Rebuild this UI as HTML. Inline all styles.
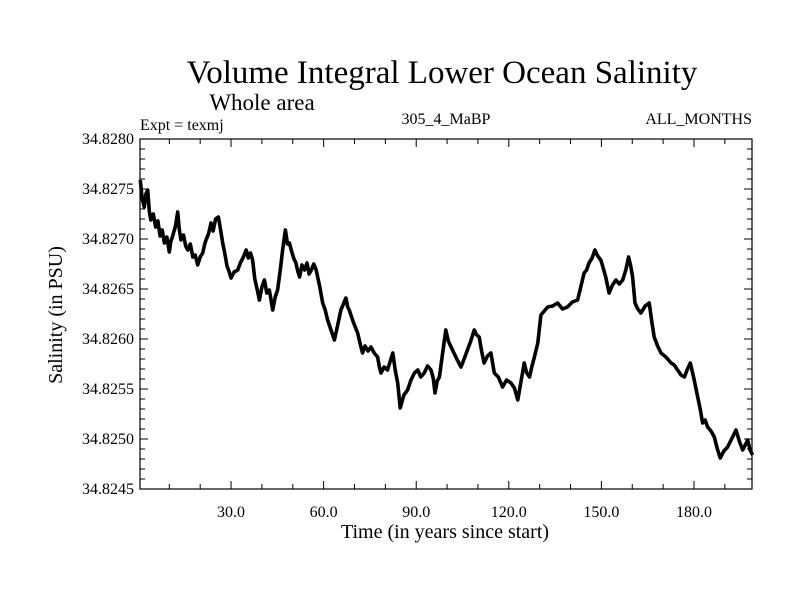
<!DOCTYPE html>
<html><head><meta charset="utf-8"><style>
body{margin:0;background:#fff}
svg text{font-family:"Liberation Serif",serif;fill:#000}
</style></head><body>
<svg id="chart" width="800" height="600" xmlns="http://www.w3.org/2000/svg">
<text x="442" y="83" font-size="33" text-anchor="middle">Volume Integral Lower Ocean Salinity</text>
<text x="262" y="110" font-size="23" text-anchor="middle">Whole area</text>
<text x="140" y="130" font-size="16">Expt = texmj</text>
<text x="446" y="124" font-size="16" text-anchor="middle">305_4_MaBP</text>
<text x="752" y="124" font-size="16" text-anchor="end">ALL_MONTHS</text>
<text transform="translate(62,315) rotate(-90)" font-size="20" text-anchor="middle">Salinity (in PSU)</text>
<text x="445" y="538" font-size="20" text-anchor="middle">Time (in years since start)</text>
<g id="axes"></g>
<path id="series" fill="none" stroke="#000" stroke-width="3.6" stroke-linejoin="round"/>
<rect x="140" y="139" width="612" height="350" fill="none" stroke="#000" stroke-width="1.2"/>
</svg>
<script>
const years=[0.6,1.2,1.9,2.4,3,3.5,4,4.8,5.6,6.3,7,7.7,8.4,9.2,10,10.5,11,12,12.7,13.2,13.8,14.6,15.3,16,16.8,17.6,18.4,19.2,20,20.8,21.4,21.9,22.7,23.5,24.2,25,25.9,26.6,27.3,28,28.7,29.3,30,31,32.2,33,34,34.9,35.6,36.3,37,37.7,38.5,39.2,40,40.8,41.6,42.4,43,43.5,44.3,45.1,46,46.7,47.6,48.3,48.9,49.7,50.4,51,51.6,52.2,53,53.8,54.6,55.3,56,56.8,57.6,58.7,59.7,60.5,61.3,62.4,63.5,64.5,65.6,66.4,67.2,67.8,68.3,69.6,71,71.8,72.6,73.4,74.4,75.3,76.4,77.5,78,78.6,79.6,80.7,81.6,82.4,83.2,84,84.8,86,87.2,88.3,89.4,90.5,91.5,92.6,93.7,94.8,95.5,96.1,96.8,97.5,98.5,99.6,100.4,101.3,102.2,103.3,104.5,105.5,106.6,107.7,108.8,109.6,110.4,111.2,112,113.1,114.2,115.3,116.6,118,119.3,120.7,121.8,122.9,124,125,125.8,126.7,127.5,128.3,129.4,130.4,131.5,132.6,134.2,135.8,137.4,139,140.6,142.3,143.4,144.4,145.2,146,147,147.9,148.8,149.8,150.6,151.4,152,152.5,153.6,154.7,155.8,156.9,157.9,158.8,159.5,160.1,160.9,161.8,162.8,164.2,165.5,166.3,167.1,168.2,169.3,170.9,172.6,173.6,174.7,175.8,176.9,177.9,178.8,180,181.2,182,182.8,183.6,184.4,185.5,186.6,187.5,188.5,189.7,190.9,192.2,193.6,194.7,195.8,196.6,197.4,198.2,199];
const anom=[30.9,29.0,28.2,29.5,29.9,27.8,26.9,27.5,26.2,26.8,25.3,25.9,24.6,25.2,23.7,24.8,25.2,26.3,27.7,26.0,24.9,25.4,24.3,23.9,24.5,23.2,23.4,22.4,23.2,23.6,24.4,24.9,25.5,26.6,25.8,27.0,27.2,25.9,24.6,23.5,22.3,21.8,21.1,21.7,21.9,22.6,23.2,23.9,23.1,23.6,22.9,21.0,19.9,18.9,20.2,20.9,19.6,19.9,18.8,17.9,19.2,19.9,22.0,23.9,25.9,24.5,24.6,23.7,23.0,22.6,21.8,21.2,22.4,21.9,22.6,21.5,21.9,22.5,21.9,20.3,18.6,17.9,16.9,15.9,14.9,16.3,17.9,18.5,19.1,18.2,17.9,16.7,15.6,14.6,13.6,14.3,13.8,14.2,13.6,13.2,12.3,11.6,12.2,11.9,12.8,13.6,11.9,10.6,8.1,9.4,9.9,10.9,11.6,11.9,11.2,11.6,12.3,11.9,11.1,9.6,10.8,11.2,13.5,15.9,14.8,14.2,13.6,12.9,12.2,13.0,13.9,14.8,15.9,15.4,15.2,13.8,12.6,13.3,13.6,11.6,11.2,10.2,10.9,10.6,10.1,8.9,10.8,12.6,11.6,11.2,12.3,13.2,14.6,17.4,17.8,18.2,18.3,18.6,18.0,18.2,18.7,18.9,20.3,21.6,21.9,22.6,23.1,23.9,23.3,22.9,22.1,21.2,20.3,19.6,20.4,20.9,20.5,20.9,21.9,23.2,22.3,21.2,18.6,18.0,17.6,18.3,18.6,16.8,15.2,14.3,13.6,13.2,12.6,12.4,11.9,11.4,11.2,12.0,12.6,11.0,9.2,8.0,6.6,6.9,6.2,5.8,5.2,4.1,3.1,3.8,4.2,5.0,5.9,4.8,3.9,4.4,4.9,3.9,3.4];
const yTickLabels=["34.8245","34.8250","34.8255","34.8260","34.8265","34.8270","34.8275","34.8280"];
const xTickLabels=["30.0","60.0","90.0","120.0","150.0","180.0"];
const X0=140,X1=752,Y0=489,Y1=139,XMIN=0.5,XMAX=198.8,YMIN=34.8245,YMAX=34.8280;
const sx=v=>X0+(v-XMIN)/(XMAX-XMIN)*(X1-X0);
const sy=v=>Y0-(v-YMIN)/(YMAX-YMIN)*(Y0-Y1);
const NS="http://www.w3.org/2000/svg";
const ax=document.getElementById('axes');
function line(x1,y1,x2,y2,name){const l=document.createElementNS(NS,'line');l.setAttribute('x1',x1);l.setAttribute('y1',y1);l.setAttribute('x2',x2);l.setAttribute('y2',y2);l.setAttribute('stroke','#000');l.setAttribute('stroke-width','1');


ax.appendChild(l);}
function text(x,y,s,anchor,name){const t=document.createElementNS(NS,'text');t.setAttribute('x',x);t.setAttribute('y',y);t.setAttribute('font-size','16');t.setAttribute('text-anchor',anchor);t.textContent=s;


ax.appendChild(t);}
for(let i=0;i<=35;i++){const v=YMIN+i*0.0001,y=sy(v),maj=i%5===0,L=maj?8:5;
line(X0,y,X0+L,y,'y-tick');line(X1,y,X1-L,y,'y-tick-right');}
yTickLabels.forEach(s=>text(134,sy(parseFloat(s))+5,s,'end','y-tick-label'));
for(let v=10;v<XMAX;v+=10){const x=sx(v),maj=v%30===0,L=maj?8:5;
line(x,Y0,x,Y0-L,'x-tick');line(x,Y1,x,Y1+L,'x-tick-top');}
xTickLabels.forEach(s=>text(sx(parseFloat(s)),517,s,'middle','x-tick-label'));
let d='';years.forEach((yr,i)=>{d+=(i?'L':'M')+sx(yr).toFixed(1)+' '+sy(YMIN+anom[i]*0.0001).toFixed(1)+' ';});
document.getElementById('series').setAttribute('d',d);
</script>
</body></html>
